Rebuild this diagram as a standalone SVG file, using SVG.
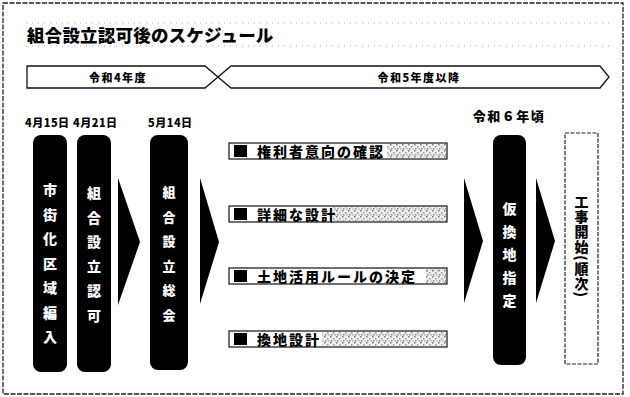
<svg xmlns="http://www.w3.org/2000/svg" width="630" height="397" viewBox="0 0 630 397">
<defs>
<pattern id="noise" width="6" height="6" patternUnits="userSpaceOnUse">
<rect width="6" height="6" fill="#eee"/>
<rect x="0" y="0" width="1.5" height="1.5" fill="#777"/>
<rect x="3" y="2" width="1.5" height="1.5" fill="#999"/>
<rect x="1" y="4" width="1.5" height="1.5" fill="#888"/>
<rect x="4.5" y="4.5" width="1" height="1" fill="#666"/>
</pattern>
<style>
text{font-family:"Noto Sans CJK JP","Noto Sans CJK SC",sans-serif;font-weight:900;fill:#000}
.frame{fill:none;stroke:#222;stroke-width:1.3;stroke-dasharray:5 1.5}
.dots{stroke:#999;stroke-width:0.8;stroke-dasharray:1 5;fill:none}
.band{fill:#fff;stroke:#111;stroke-width:1.3}
.bar{fill:#000}
.vt{fill:#fff;font-size:14px;writing-mode:vertical-rl}
.date{font-size:11px;letter-spacing:0.5px}
.item{fill:#fff;stroke:#111;stroke-width:1.2}
.itxt{font-size:14px;letter-spacing:2px}
.chev{fill:#000}
</style>
</defs>
<rect class="frame" x="3" y="3" width="620" height="391"/>
<line class="dots" x1="26" y1="23" x2="612" y2="23"/>
<line class="dots" x1="26" y1="46" x2="612" y2="46"/>
<text x="27" y="42" style="font-size:17.5px;letter-spacing:0.2px">組合設立認可後のスケジュール</text>

<g id="band1">
<polygon class="band" points="27,66 205,66 218,77 205,88 27,88"/>
<text x="118" y="81.5" text-anchor="middle" style="font-size:11px;letter-spacing:1.5px">令和4年度</text>
</g>
<g id="band2">
<polygon class="band" points="231,66 600,66 609,77 600,88 231,88 218,77"/>
<text x="419" y="81.5" text-anchor="middle" style="font-size:11px;letter-spacing:1.5px">令和5年度以降</text>
</g>

<g id="dates">
<text class="date" x="25" y="127">4月15日</text>
<text class="date" x="73" y="127">4月21日</text>
<text class="date" x="148" y="127">5月14日</text>
<text x="509" y="121" text-anchor="middle" style="font-size:13px;letter-spacing:1.5px">令和６年頃</text>
</g>

<g id="bar1">
<rect class="bar" x="33" y="135" width="34" height="237" rx="8"/>
<text class="vt" x="50" y="183" style="letter-spacing:10.5px">市街化区域編入</text>
</g>
<g id="bar2">
<rect class="bar" x="77" y="135" width="34" height="237" rx="8"/>
<text class="vt" x="94" y="186" style="letter-spacing:10.5px">組合設立認可</text>
</g>
<g id="bar3">
<rect class="bar" x="150" y="135" width="38" height="235" rx="8"/>
<text class="vt" x="169" y="186" style="font-size:13px;letter-spacing:11.5px">組合設立総会</text>
</g>
<g id="bar4">
<rect class="bar" x="493" y="135" width="33" height="230" rx="8"/>
<text class="vt" x="509.5" y="202" style="letter-spacing:8.8px">仮換地指定</text>
</g>
<g id="box5">
<rect x="565" y="133" width="33" height="231" fill="#fff" stroke="#222" stroke-width="1.2" stroke-dasharray="4 1.5"/>
<text class="vt" x="581.5" y="195" style="fill:#000;font-size:14px;letter-spacing:1px">工事開始(順次)</text>
</g>

<g id="item1">
<rect class="item" x="229" y="143" width="218" height="16"/>
<rect x="387" y="144" width="59" height="14" fill="url(#noise)"/>
<rect x="234" y="145" width="13" height="12" fill="#000"/>
<text class="itxt" x="257" y="157">権利者意向の確認</text>
</g>
<g id="item2">
<rect class="item" x="229" y="206" width="218" height="16"/>
<rect x="333" y="207" width="113" height="14" fill="url(#noise)"/>
<rect x="234" y="208" width="13" height="12" fill="#000"/>
<text class="itxt" x="257" y="220">詳細な設計</text>
</g>
<g id="item3">
<rect class="item" x="229" y="268" width="218" height="16"/>
<rect x="426" y="269" width="20" height="14" fill="url(#noise)"/>
<rect x="234" y="270" width="13" height="12" fill="#000"/>
<text class="itxt" x="257" y="282">土地活用ルールの決定</text>
</g>
<g id="item4">
<rect class="item" x="229" y="331" width="218" height="16"/>
<rect x="322" y="332" width="124" height="14" fill="url(#noise)"/>
<rect x="234" y="333" width="13" height="12" fill="#000"/>
<text class="itxt" x="257" y="345">換地設計</text>
</g>

<g id="connectors">
<polygon class="chev" points="118,178 140,242 118,305"/>
<polygon class="chev" points="200,178 219,242 200,304"/>
<polygon class="chev" points="464,178 483,241 464,303"/>
<polygon class="chev" points="536,178 555,241 536,303"/>
</g>
</svg>
